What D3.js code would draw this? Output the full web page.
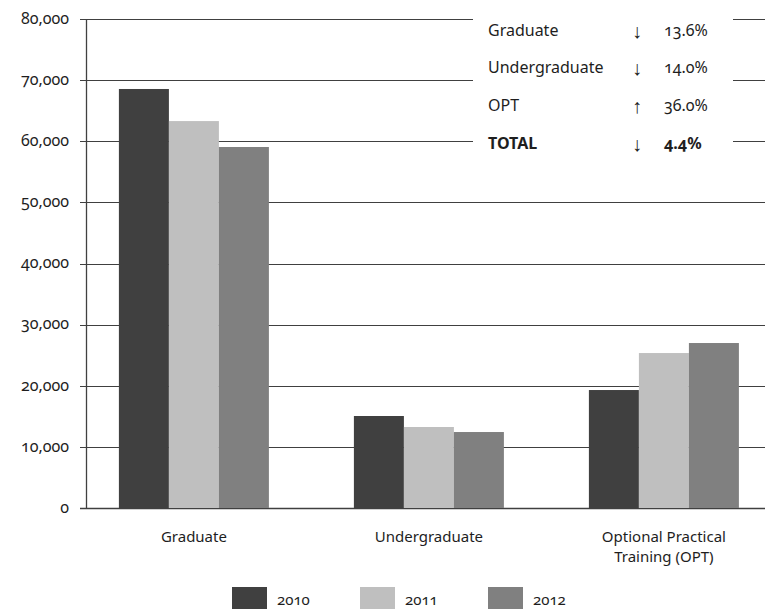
<!DOCTYPE html>
<html>
<head>
<meta charset="utf-8">
<script src="https://cdn.jsdelivr.net/npm/d3@7"></script>
<style>
  html, body { margin: 0; padding: 0; background: #fff; }
  svg text { font-family: "Noto Sans", "Open Sans", sans-serif; fill: #1e1e1e; font-variant-numeric: oldstyle-nums; font-feature-settings: "onum" 1; }
  svg text.arrow { font-family: "Liberation Sans", "DejaVu Sans", sans-serif; font-weight: 300; }
</style>
</head>
<body>
<svg id="chart" width="765" height="609"></svg>
<script>
// Enrollment by category and year
const categories = ["Graduate", "Undergraduate", "Optional Practical Training (OPT)"];
const categoryLines = [["Graduate"], ["Undergraduate"], ["Optional Practical", "Training (OPT)"]];
const years = ["2010", "2011", "2012"];
const values2010 = [68550, 15050, 19300];
const values2011 = [63300, 13250, 25350];
const values2012 = [59060, 12430, 26990];
const yTicks = [0, 10000, 20000, 30000, 40000, 50000, 60000, 70000, 80000];
const yearColors = ["#404040", "#bfbfbf", "#808080"];

// Percent change summary
const changeLabels = ["Graduate", "Undergraduate", "OPT", "TOTAL"];
const changeArrows = ["↓", "↓", "↑", "↓"];
const changeValues = ["13.6%", "14.0%", "36.0%", "4.4%"];

const series = [values2010, values2011, values2012];
const rows = categories.map((c, i) => ({
  category: c,
  lines: categoryLines[i],
  values: years.map((y, j) => ({ year: y, value: series[j][i], color: yearColors[j] }))
}));

const svg = d3.select("#chart");
const W = 765;
const axisX = 86.5;

const y = d3.scaleLinear().domain([0, 80000]).range([508, 19]);
const x = d3.scaleBand().domain(categories).range([87, 765])
  .paddingInner(0.3617).paddingOuter(0.1234).align(0.55);
const xi = d3.scaleBand().domain(years).range([0, x.bandwidth()]);

// Horizontal grid lines with ticks reaching left of the axis
svg.append("g").selectAll("line").data(yTicks).join("line")
  .attr("x1", 80).attr("x2", W)
  .attr("y1", d => Math.round(y(d)) + 0.5).attr("y2", d => Math.round(y(d)) + 0.5)
  .attr("stroke", "#404040").attr("stroke-width", d => d === 0 ? 1.6 : 1.2);

// Y tick labels
const fmt = d3.format(",");
svg.append("g").selectAll("text").data(yTicks).join("text")
  .attr("x", 69).attr("y", d => y(d))
  .attr("dy", "0.3em").attr("text-anchor", "end")
  .style("font-size", "16px")
  .text(d => fmt(d));

// Vertical axis line
svg.append("line")
  .attr("x1", axisX).attr("x2", axisX)
  .attr("y1", y(80000)).attr("y2", y(0))
  .attr("stroke", "#404040").attr("stroke-width", 1.3);

// Bars
const groups = svg.append("g").selectAll("g").data(rows).join("g")
  .attr("transform", d => `translate(${x(d.category)},0)`);
groups.selectAll("rect").data(d => d.values).join("rect")
  .attr("x", d => xi(d.year))
  .attr("width", xi.bandwidth())
  .attr("y", d => y(d.value))
  .attr("height", d => y(0) - y(d.value))
  .attr("fill", d => d.color);

// Category labels
const labels = svg.append("g").selectAll("text").data(rows).join("text")
  .attr("text-anchor", "middle")
  .attr("transform", d => `translate(${x(d.category) + x.bandwidth() / 2},537)`)
  .style("font-size", "15px");
labels.selectAll("tspan").data(d => d.lines).join("tspan")
  .attr("x", 0).attr("y", (d, i) => i * 20).attr("dy", "0.35em")
  .text(d => d);

// Summary box of percent changes
const box = svg.append("g");
box.append("rect").attr("x", 473).attr("y", 0).attr("width", 260).attr("height", 168).attr("fill", "#fff");
const entries = changeLabels.map((l, i) => ({ label: l, arrow: changeArrows[i], value: changeValues[i], bold: l === "TOTAL" }));
const rowY = d3.scalePoint().domain(changeLabels).range([30, 143]);
const entry = box.selectAll("g").data(entries).join("g")
  .attr("transform", d => `translate(0,${rowY(d.label)})`)
  .style("font-size", "16px");
entry.append("text").attr("x", 488).attr("dy", "0.35em")
  .style("font-weight", d => d.bold ? "700" : "400").text(d => d.label);
entry.append("text").attr("class", "arrow").attr("x", 637).attr("dy", "0.38em").attr("text-anchor", "middle")
  .style("font-size", "20px").text(d => d.arrow);
entry.append("text").attr("x", 664).attr("dy", "0.35em")
  .style("font-weight", d => d.bold ? "700" : "400").text(d => d.value);

// Legend
const legendX = d3.scalePoint().domain(years).range([232, 488]);
const leg = svg.append("g").selectAll("g").data(years).join("g")
  .attr("transform", d => `translate(${legendX(d)},587)`);
leg.append("rect").attr("width", 35).attr("height", 22).attr("fill", (d, i) => yearColors[i]);
leg.append("text").attr("x", 45).attr("y", 13).attr("dy", "0.35em")
  .style("font-size", "15px").text(d => d);
</script>
</body>
</html>
